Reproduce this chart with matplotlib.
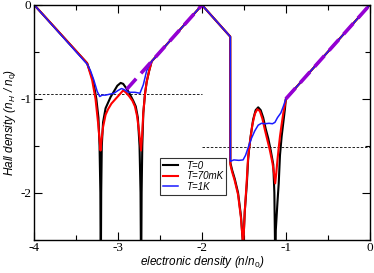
import numpy as np
import matplotlib
matplotlib.use("Agg")
import matplotlib.pyplot as plt
from matplotlib.ticker import MultipleLocator

# T=0 curve
x_t0 = [-4.0, -3.37, -3.30, -3.26, -3.235, -3.222, -3.212, -3.207, -3.202, -3.195, -3.18, -3.15,
        -3.12, -3.09, -3.05, -3.01, -2.97, -2.94, -2.90, -2.86, -2.82, -2.79, -2.765, -2.745,
        -2.733, -2.726, -2.72, -2.712, -2.70, -2.68, -2.66, -2.63, -2.6, -2.0,
        -1.663, -1.662, -1.64, -1.61, -1.57, -1.535, -1.515, -1.51, -1.505, -1.49, -1.465,
        -1.45, -1.44, -1.42, -1.39, -1.36, -1.33, -1.30, -1.27, -1.24, -1.21, -1.18, -1.15,
        -1.137, -1.13, -1.125, -1.12, -1.10, -1.085, -1.07, -1.05, -1.03, -1.01, -1.0, 0.0]
y_t0 = [0.0, -0.62, -0.80, -1.0, -1.2, -1.5, -2.0, -3.0, -2.0, -1.5, -1.25, -1.1,
        -1.04, -0.98, -0.92, -0.86, -0.83, -0.84, -0.89, -0.95, -1.02, -1.08, -1.2, -1.5,
        -2.0, -3.0, -2.0, -1.5, -1.15, -0.95, -0.82, -0.70, -0.6, 0.0,
        -0.337, -1.68, -1.76, -1.85, -2.0, -2.25, -2.5, -3.0, -2.5, -2.2, -1.9,
        -1.65, -1.55, -1.40, -1.22, -1.12, -1.09, -1.12, -1.20, -1.32, -1.42, -1.55, -1.70,
        -2.0, -2.5, -3.0, -2.4, -2.1, -1.9, -1.6, -1.4, -1.25, -1.1, -1.0, 0.0]

# T=70mK curve
x_t70 = [-4.0, -3.37, -3.31, -3.27, -3.24, -3.22, -3.21, -3.20, -3.18, -3.15, -3.12, -3.08,
         -3.03, -2.98, -2.94, -2.91, -2.87, -2.83, -2.80, -2.775, -2.75, -2.727, -2.715,
         -2.70, -2.68, -2.66, -2.63, -2.6, -2.0,
         -1.663, -1.662, -1.64, -1.61, -1.57, -1.535, -1.515, -1.51, -1.505, -1.49, -1.468,
         -1.45, -1.43, -1.40, -1.37, -1.34, -1.31, -1.28, -1.25, -1.22, -1.19, -1.16, -1.14,
         -1.127, -1.115, -1.10, -1.085, -1.07, -1.05, -1.03, -1.01, -1.0, 0.0]
y_t70 = [0.0, -0.62, -0.80, -1.0, -1.25, -1.45, -1.55, -1.45, -1.30, -1.17, -1.11, -1.05,
         -1.0, -0.95, -0.91, -0.93, -0.97, -1.02, -1.08, -1.18, -1.35, -1.55, -1.40,
         -1.15, -0.95, -0.82, -0.70, -0.6, 0.0,
         -0.337, -1.70, -1.78, -1.87, -2.02, -2.27, -2.5, -3.0, -2.5, -2.2, -1.9,
         -1.62, -1.47, -1.28, -1.16, -1.11, -1.13, -1.21, -1.33, -1.44, -1.55, -1.68, -1.80,
         -1.90, -1.80, -1.65, -1.52, -1.40, -1.27, -1.15, -1.06, -1.0, 0.0]

# T=1K curve
x_t1 = [-4.0, -3.37, -3.33, -3.29, -3.25, -3.22, -3.19, -3.15, -3.10, -3.05, -3.0, -2.96,
        -2.93, -2.88, -2.80, -2.74, -2.70, -2.66, -2.62, -2.6, -2.0,
        -1.663, -1.662, -1.62, -1.56, -1.51, -1.48, -1.45, -1.41, -1.37, -1.33, -1.29,
        -1.25, -1.20, -1.16, -1.13, -1.10, -1.06, -1.03, -1.0, 0.0]
y_t1 = [0.0, -0.63, -0.70, -0.80, -0.92, -0.975, -0.96, -0.96, -0.95, -0.94, -0.91, -0.89,
        -0.90, -0.93, -0.93, -0.94, -0.85, -0.70, -0.63, -0.6, 0.0,
        -0.337, -1.665, -1.65, -1.655, -1.65, -1.60, -1.52, -1.42, -1.34, -1.28, -1.26,
        -1.265, -1.26, -1.265, -1.25, -1.20, -1.15, -1.08, -1.0, 0.0]

# classical lines (dashed purple)
x_cl_left = [-2.9, -2.0]
y_cl_left = [-0.9, 0.0]
x_cl_right = [-1.0, 0.0]
y_cl_right = [-1.0, 0.0]

# plateau guides
x_guide_left = [-4.0, -2.0]
y_guide_left = [-0.95, -0.95]
x_guide_right = [-2.0, 0.0]
y_guide_right = [-1.51, -1.51]

# tick labels
x_ticks = [-4, -3, -2, -1, 0]
x_tick_labels = ["-4", "-3", "-2", "-1", "0"]
y_ticks = [-2, -1, 0]
y_tick_labels = ["-2", "-1", "0"]

sans = "Liberation Sans"
serif = "Liberation Serif"
plt.rcParams["mathtext.fontset"] = "custom"
plt.rcParams["mathtext.it"] = "Liberation Sans:italic"
plt.rcParams["mathtext.rm"] = "Liberation Sans"

fig = plt.figure(figsize=(3.74, 2.73), dpi=100)
ax = fig.add_axes([0.0917, 0.122, 0.8968, 0.8597])

ax.plot(x_guide_left, y_guide_left, color="black", lw=0.6, ls=(0, (3, 2)))
ax.plot(x_guide_right, y_guide_right, color="black", lw=0.6, ls=(0, (3, 2)))

ax.plot(x_t0, y_t0, color="black", lw=1.5, label="T=0")
ax.plot(x_t70, y_t70, color="#ff0000", lw=1.5, label="T=70mK")
ax.plot(x_t1, y_t1, color="#1a1aff", lw=1.1, label="T=1K")

ax.plot(x_cl_left, y_cl_left, color="#9400d3", lw=2.6, ls=(0, (4, 2)))
ax.plot(x_cl_right, y_cl_right, color="#9400d3", lw=2.6, ls=(0, (4, 2)))

ax.set_xlim(-4, 0)
ax.set_ylim(-2.5, 0)
ax.set_xticks(x_ticks, labels=x_tick_labels, fontfamily=serif, fontsize=9.5)
ax.set_yticks(y_ticks, labels=y_tick_labels, fontfamily=serif, fontsize=9.5)
ax.xaxis.set_minor_locator(MultipleLocator(0.5))
ax.yaxis.set_minor_locator(MultipleLocator(0.5))
ax.tick_params(which="both", direction="in", top=True, right=True, width=0.8)
ax.tick_params(which="major", length=6, pad=2)
ax.tick_params(which="minor", length=3.5)
for sp in ax.spines.values():
    sp.set_linewidth(1.0)

ax.set_xlabel("electronic density ($n/n_0$)", family=sans, style="italic", fontsize=8.5, labelpad=0)
ax.set_ylabel("Hall density ($n_H$ / $n_0$)", family=sans, style="italic", fontsize=8.5, labelpad=2)

leg = ax.legend(loc="upper left", bbox_to_anchor=(0.36, 0.37), fancybox=False,
                edgecolor="black", handlelength=1.6, handletextpad=0.8, borderpad=0.3,
                labelspacing=0.05, prop={"family": sans, "style": "italic", "size": 7})
leg.get_frame().set_linewidth(0.8)

fig.savefig("out.png", dpi=100)
